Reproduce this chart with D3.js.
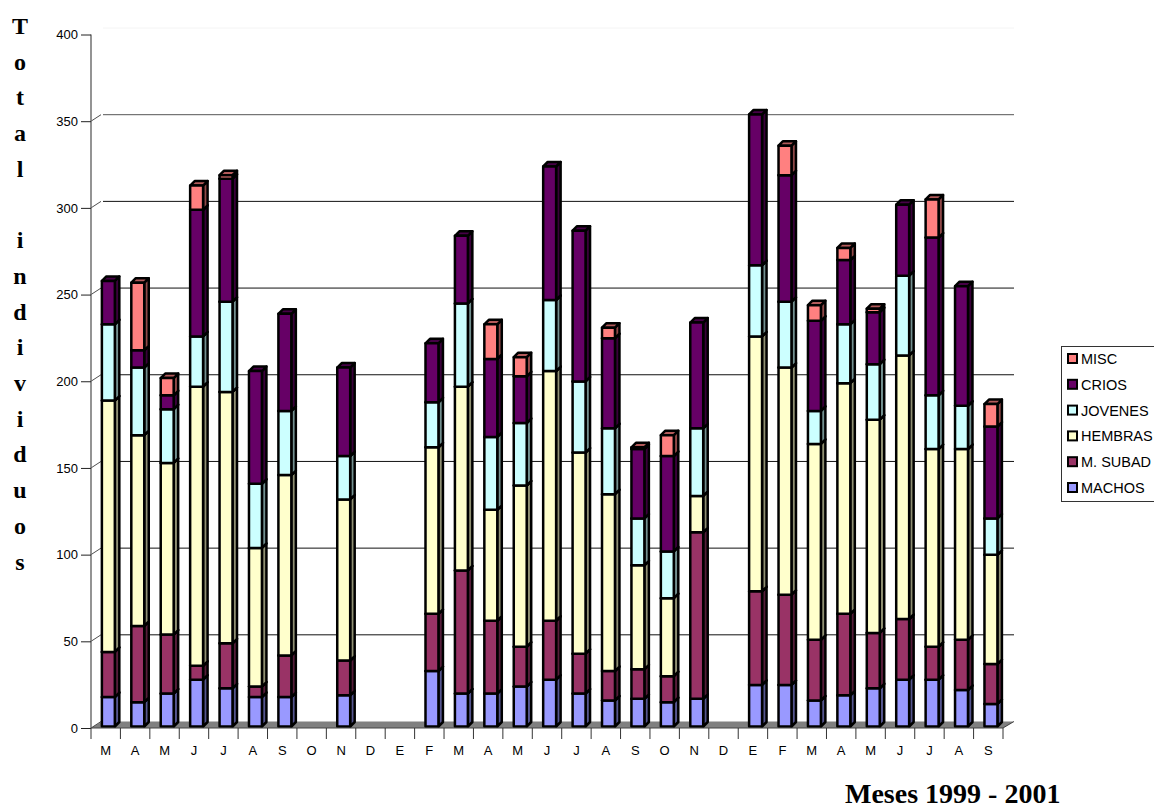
<!DOCTYPE html>
<html>
<head>
<meta charset="utf-8">
<script src="https://cdn.jsdelivr.net/npm/d3@7"></script>
<style>
  html, body { margin: 0; padding: 0; background: #fff; overflow: hidden; }
  text { font-family: "Liberation Sans", Arial, sans-serif; fill: #000; }
  .serif { font-family: "Liberation Serif", "Times New Roman", serif; font-weight: bold; }
</style>
</head>
<body>
<div class="chart"></div>
<script>
const months = ['M','A','M','J','J','A','S','O','N','D','E','F','M','A','M','J','J','A','S','O','N','D','E','F','M','A','M','J','J','A','S'];
const machos  = [17,14,19,27,22,17,17,0,18,0,0,32,19,19,23,27,19,15,16,14,16,0,24,24,15,18,22,27,27,21,13];
const mSubad  = [26,44,34,8,26,6,24,0,20,0,0,33,71,42,23,34,23,17,17,15,96,0,54,52,35,47,32,35,19,29,23];
const hembras = [145,110,99,161,145,80,104,0,93,0,0,96,106,64,93,144,116,102,60,45,21,0,147,131,113,133,123,152,114,110,63];
const jovenes = [44,39,31,29,52,37,37,0,25,0,0,26,48,42,36,41,41,38,27,27,39,0,41,38,19,34,32,46,31,25,21];
const crios   = [25,10,8,73,71,65,56,0,51,0,0,34,39,45,27,77,87,52,40,55,61,0,87,73,52,37,30,41,91,69,53];
const misc    = [0,39,10,14,2,0,0,0,0,0,0,0,0,20,11,0,0,6,1,12,0,0,0,17,9,7,2,0,22,0,13];

const seriesNames = ['MACHOS','M. SUBAD','HEMBRAS','JOVENES','CRIOS','MISC'];
const seriesValues = [machos, mSubad, hembras, jovenes, crios, misc];
const seriesColors = ['#9999ff','#993366','#ffffcc','#ccffff','#660066','#ff8080'];
const yTicks = [0,50,100,150,200,250,300,350,400];
const yTitle = ['T','o','t','a','l','','i','n','d','i','v','i','d','u','o','s'];

const width = 1154, height = 808;
const wallX = 11, wallY = 6.5;  // offset of back wall
const depth = 4.5;              // bar depth

const svg = d3.select('.chart').append('svg')
  .attr('width', width)
  .attr('height', height)
  .style('display', 'block');

const x = d3.scaleBand().domain(d3.range(months.length)).range([91, 1003]);
const y = d3.scaleLinear().domain([0, 400]).range([728, 34.5]);
const edge = d3.scaleLinear().domain([0, months.length]).range([91, 1003]);

// floor
svg.append('polygon')
  .attr('points', [[x.range()[0], y(0)], [x.range()[0] + wallX, y(0) - wallY], [x.range()[1] + wallX, y(0) - wallY], [x.range()[1], y(0)]].join(' '))
  .attr('fill', '#808080');

// gridlines on back wall
svg.append('g').selectAll('line')
  .data(yTicks.filter(d => d > 0))
  .enter()
  .append('line')
  .attr('x1', 91 + wallX + 1)
  .attr('x2', 1003 + wallX)
  .attr('y1', d => y(d) - wallY)
  .attr('y2', d => y(d) - wallY)
  .attr('stroke', d => d === 400 ? '#f4f4f4' : d === 350 ? '#555' : '#111')
  .attr('stroke-width', 1);

// wall diagonals
svg.append('g').selectAll('line')
  .data(yTicks.filter(d => d < 400))
  .enter()
  .append('line')
  .attr('x1', 91)
  .attr('x2', 91 + wallX - 1)
  .attr('y1', d => y(d))
  .attr('y2', d => y(d) - wallY)
  .attr('stroke', '#222')
  .attr('stroke-width', 0.8);

svg.append('line')
  .attr('x1', 1003).attr('x2', 1003 + wallX)
  .attr('y1', y(0)).attr('y2', y(0) - wallY)
  .attr('stroke', '#222').attr('stroke-width', 0.8);

// bars
const barW = x.bandwidth() * 0.44;
const barX = i => x(i) + x.bandwidth() * 0.37;
const bars = svg.append('g')
  .attr('transform', 'translate(0,-1.5)')
  .attr('stroke', '#000')
  .attr('stroke-width', 2.5)
  .attr('stroke-linejoin', 'round');

months.forEach((m, i) => {
  let base = 0;
  seriesValues.forEach((vals, s) => {
    const v = vals[i];
    if (!v) return;
    const y0 = y(base), y1 = y(base + v), x0 = barX(i), x1 = x0 + barW;
    const c = seriesColors[s];
    const g = bars.append('g');
    g.append('polygon') // side
      .attr('points', [[x1, y0], [x1 + depth, y0 - depth], [x1 + depth, y1 - depth], [x1, y1]].join(' '))
      .attr('fill', d3.rgb(c).darker(1.6));
    g.append('polygon') // top
      .attr('points', [[x0, y1], [x0 + depth, y1 - depth], [x1 + depth, y1 - depth], [x1, y1]].join(' '))
      .attr('fill', d3.rgb(c).darker(1.0));
    g.append('rect')
      .attr('x', x0).attr('y', y1).attr('width', barW).attr('height', y0 - y1)
      .attr('fill', c);
    base += v;
  });
});

// axes
const yAxis = svg.append('g')
  .attr('transform', 'translate(91,0)')
  .call(d3.axisLeft(y).tickValues(yTicks).tickSize(10).tickPadding(3));
yAxis.select('.domain').attr('stroke', '#666').attr('stroke-width', 1.4).attr('d', `M0,${y(400)}V${y(0)}`);
yAxis.selectAll('.tick line').attr('stroke', '#222');
yAxis.selectAll('text').attr('font-size', 13).attr('font-family', '"Liberation Sans"');

const xAxis = svg.append('g')
  .attr('transform', `translate(0,${y(0)})`)
  .call(d3.axisBottom(x).tickFormat(i => months[i]).tickSize(0).tickPadding(18));
xAxis.select('.domain').attr('stroke', '#444').attr('d', 'M91,0H1003');
xAxis.selectAll('text').attr('font-size', 13).attr('font-family', '"Liberation Sans"');

svg.append('g').selectAll('line')
  .data(d3.range(months.length + 1))
  .enter()
  .append('line')
  .attr('x1', d => edge(d))
  .attr('x2', d => edge(d))
  .attr('y1', y(0))
  .attr('y2', y(0) + 11)
  .attr('stroke', '#333');

// vertical title, one letter per row
svg.append('g').selectAll('text')
  .data(yTitle)
  .enter()
  .append('text')
  .attr('class', 'serif')
  .attr('x', 20)
  .attr('y', (d, i) => 34 + i * 35.7)
  .attr('text-anchor', 'middle')
  .attr('font-size', 24)
  .text(d => d);

svg.append('text')
  .attr('class', 'serif')
  .attr('x', 845)
  .attr('y', 803)
  .attr('font-size', 28)
  .text('Meses 1999 - 2001');

// legend
svg.append('rect')
  .attr('x', 1061.5).attr('y', 346.5)
  .attr('width', 100).attr('height', 155)
  .attr('fill', '#fff').attr('stroke', '#333');

const legendRows = d3.range(seriesNames.length).reverse();
const legendY = d3.scalePoint().domain(legendRows).range([358.5, 487.5]);

const legend = svg.append('g').selectAll('g')
  .data(legendRows)
  .enter()
  .append('g')
  .attr('transform', d => `translate(1068,${legendY(d)})`);

legend.append('rect')
  .attr('x', 0).attr('y', -4.5)
  .attr('width', 9).attr('height', 9)
  .attr('fill', d => seriesColors[d])
  .attr('stroke', '#000')
  .attr('stroke-width', 2);

legend.append('text')
  .attr('x', 13)
  .attr('y', 5.5)
  .attr('font-size', 14.5)
  .text(d => seriesNames[d]);
</script>
</body>
</html>
